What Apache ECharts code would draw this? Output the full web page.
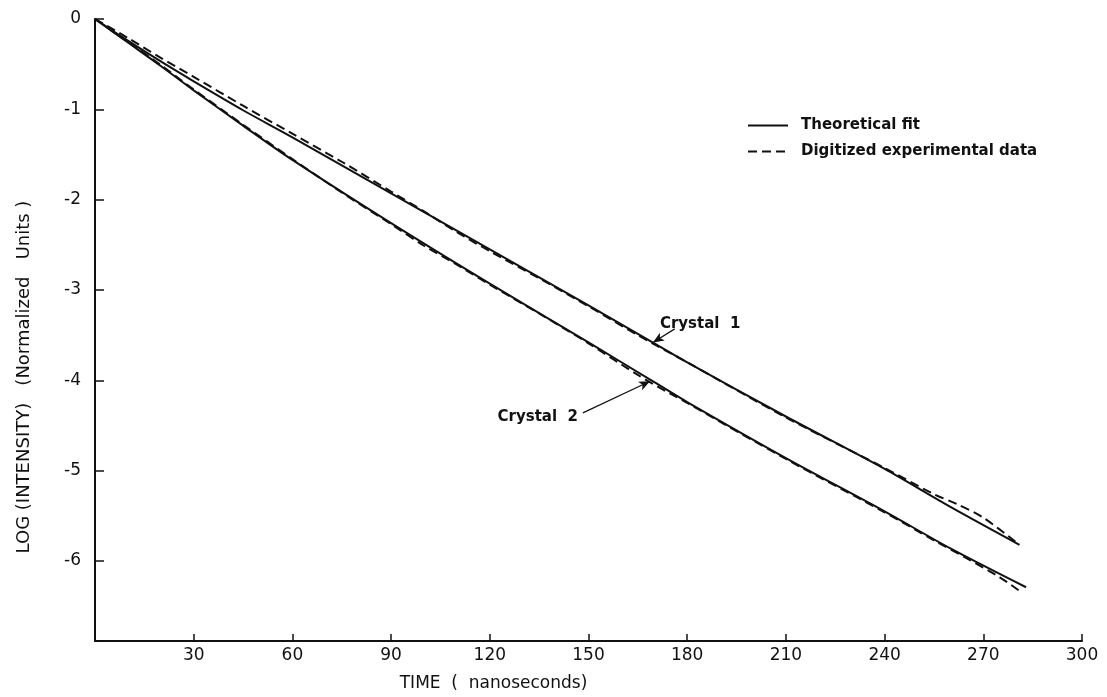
<!DOCTYPE html>
<html>
<head>
<meta charset="utf-8">
<title>Log intensity decay</title>
<script src="https://cdn.jsdelivr.net/npm/echarts@6/dist/echarts.min.js"></script>
<style>
  html, body { margin: 0; padding: 0; background: #fff; }
  #chart { width: 1107px; height: 697px; }
</style>
</head>
<body>
<div id="chart"></div>
<script>
// time (ns) / log intensity
var fit1T = [0, 10, 20, 30, 45, 60, 90, 120, 150, 170, 180, 210, 240, 260, 281];
var fit1V = [0, -0.24, -0.47, -0.69, -1.01, -1.31, -1.93, -2.55, -3.17, -3.59, -3.80, -4.40, -4.98, -5.40, -5.82];

var data1T = [0, 10, 20, 30, 45, 60, 75, 90, 100, 110, 120, 135, 150, 165, 180, 210, 240, 255, 262, 270, 281];
var data1V = [0, -0.21, -0.43, -0.64, -0.96, -1.27, -1.58, -1.91, -2.13, -2.36, -2.57, -2.87, -3.18, -3.50, -3.80, -4.41, -4.97, -5.26, -5.37, -5.52, -5.82];

var fit2T = [0, 10, 20, 30, 45, 60, 90, 120, 150, 170, 180, 210, 240, 260, 283];
var fit2V = [0, -0.26, -0.52, -0.79, -1.18, -1.56, -2.26, -2.93, -3.58, -4.02, -4.24, -4.86, -5.45, -5.86, -6.29];

var data2T = [0, 10, 20, 30, 45, 60, 75, 90, 100, 110, 120, 135, 150, 165, 175, 180, 210, 240, 255, 265, 275, 281];
var data2V = [0, -0.25, -0.51, -0.78, -1.17, -1.55, -1.92, -2.27, -2.51, -2.72, -2.94, -3.26, -3.59, -3.94, -4.15, -4.25, -4.87, -5.46, -5.77, -5.97, -6.18, -6.33];

var xTicks = [30, 60, 90, 120, 150, 180, 210, 240, 270, 300];
var yTicks = [0, -1, -2, -3, -4, -5, -6];

// annotation anchors (data coords)
var crystal1Text = [171.7, -3.38];
var crystal1Arrow = [[176.2, -3.43], [169.6, -3.58]];
var crystal2Text = [146.8, -4.41];
var crystal2Arrow = [[148.3, -4.36], [168.7, -4.01]];

function pairs(t, v) {
    var out = [];
    for (var i = 0; i < t.length; i++) out.push([t[i], v[i]]);
    return out;
}

var ink = '#111';
var font = 'DejaVu Sans';

function arrowLine(a) {
    return {
        silent: true,
        symbol: ['none', 'arrow'],
        symbolSize: [7, 11],
        label: { show: false },
        lineStyle: { color: ink, width: 1.2, type: 'solid' },
        data: [[{ coord: a[0] }, { coord: a[1] }]]
    };
}

function textPoint(p, txt, pos) {
    return {
        silent: true,
        symbol: 'circle',
        symbolSize: 0,
        label: {
            show: true,
            position: pos,
            distance: 0,
            formatter: txt,
            color: ink,
            fontFamily: font,
            fontWeight: 'bold',
            fontSize: 15
        },
        data: [{ coord: p }]
    };
}

var chart = echarts.init(document.getElementById('chart'));

var option = {
    animation: false,
    backgroundColor: '#fff',
    grid: { left: 95, right: 25, top: 19, bottom: 49 },
    legend: {
        orient: 'vertical',
        left: 742,
        top: 113,
        itemWidth: 40,
        itemHeight: 14,
        itemGap: 11,
        data: ['Theoretical fit', 'Digitized experimental data'],
        itemStyle: { opacity: 0 },
        textStyle: {
            color: ink,
            fontFamily: font,
            fontWeight: 'bold',
            fontSize: 15,
            padding: [0, 0, 0, 8]
        }
    },
    xAxis: {
        type: 'value',
        min: 0,
        max: 300,
        interval: 30,
        name: 'TIME  (  nanoseconds)',
        nameLocation: 'middle',
        nameGap: 34,
        nameTextStyle: {
            color: ink,
            fontFamily: font,
            fontSize: 17,
            padding: [0, 190, 0, 0]
        },
        axisLine: { onZero: false, lineStyle: { color: ink, width: 2 } },
        axisTick: { inside: true, length: 7, lineStyle: { color: ink, width: 1.5 } },
        axisLabel: {
            color: ink,
            fontFamily: font,
            fontSize: 17,
            margin: 6,
            formatter: function(v) { return xTicks.indexOf(v) >= 0 ? String(v) : ''; }
        },
        splitLine: { show: false }
    },
    yAxis: {
        type: 'value',
        min: -6.885,
        max: 0,
        splitNumber: 7,
        name: 'LOG (INTENSITY)   (Normalized   Units )',
        nameLocation: 'middle',
        nameRotate: 90,
        nameGap: 62,
        nameTextStyle: {
            color: ink,
            fontFamily: font,
            fontSize: 18,
            padding: [0, 94, 0, 0]
        },
        axisLine: { onZero: false, lineStyle: { color: ink, width: 2 } },
        axisTick: { inside: true, length: 9, lineStyle: { color: ink, width: 1.5 } },
        axisLabel: {
            color: ink,
            fontFamily: font,
            fontSize: 17,
            margin: 14,
            formatter: function(v) {
                var r = Math.round(v);
                if (Math.abs(v - r) > 1e-6 || yTicks.indexOf(r) < 0) return '';
                return String(r);
            }
        },
        splitLine: { show: false }
    },
    series: [
        {
            name: 'Theoretical fit',
            type: 'line',
            symbol: 'none',
            smooth: 0.3,
            lineStyle: { color: ink, width: 2, type: 'solid' },
            itemStyle: { color: ink },
            data: pairs(fit1T, fit1V),
            markLine: arrowLine(crystal1Arrow),
            markPoint: textPoint(crystal1Text, 'Crystal  1', 'right')
        },
        {
            name: 'Digitized experimental data',
            type: 'line',
            symbol: 'none',
            smooth: 0.3,
            lineStyle: { color: ink, width: 2, type: [9, 5] },
            itemStyle: { color: ink },
            data: pairs(data1T, data1V)
        },
        {
            name: 'Theoretical fit',
            type: 'line',
            symbol: 'none',
            smooth: 0.3,
            lineStyle: { color: ink, width: 2, type: 'solid' },
            itemStyle: { color: ink },
            data: pairs(fit2T, fit2V),
            markLine: arrowLine(crystal2Arrow),
            markPoint: textPoint(crystal2Text, 'Crystal  2', 'left')
        },
        {
            name: 'Digitized experimental data',
            type: 'line',
            symbol: 'none',
            smooth: 0.3,
            lineStyle: { color: ink, width: 2, type: [9, 5] },
            itemStyle: { color: ink },
            data: pairs(data2T, data2V)
        }
    ]
};

chart.setOption(option);
window.addEventListener('resize', function() { chart.resize(); });
</script>
</body>
</html>
